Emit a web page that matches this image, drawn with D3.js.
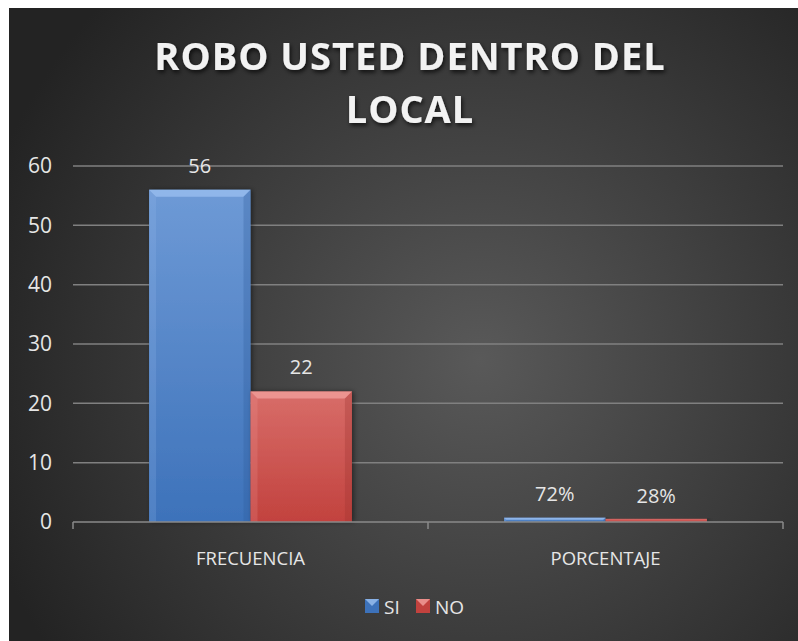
<!DOCTYPE html>
<html>
<head>
<meta charset="utf-8">
<script src="https://cdn.jsdelivr.net/npm/d3@7"></script>
<style>
  html, body { margin: 0; padding: 0; background: #ffffff; }
  svg { display: block; }
  text { font-family: "Open Sans", "DejaVu Sans", sans-serif; }
</style>
</head>
<body>
<svg id="chart" width="798" height="641"></svg>
<script>
// chart data
var categories = ["FRECUENCIA", "PORCENTAJE"];
var series = ["SI", "NO"];
var siValues = [56, 0.72];
var noValues = [22, 0.28];
var siLabels = ["56", "72%"];
var noLabels = ["22", "28%"];
var yTicks = [0, 10, 20, 30, 40, 50, 60];
var titleLines = ["ROBO USTED DENTRO DEL", "LOCAL"];

var colors = {
    SI: { top: "#6e9ad6", bottom: "#3d72ba", edge: "#9cc0f0", dark: "#2f5d9c" },
    NO: { top: "#d86d69", bottom: "#c2423e", edge: "#f3a19e", dark: "#9c3330" }
};

var svg = d3.select("#chart");
var defs = svg.append("defs");

// background radial gradient (dark edges, lighter middle)
var bg = defs.append("radialGradient")
    .attr("id", "bg")
    .attr("gradientUnits", "userSpaceOnUse")
    .attr("cx", 480).attr("cy", 360).attr("r", 520);
bg.append("stop").attr("offset", "0%").attr("stop-color", "#595959");
bg.append("stop").attr("offset", "100%").attr("stop-color", "#232323");

series.forEach(function (s) {
    var g = defs.append("linearGradient")
        .attr("id", "grad-" + s)
        .attr("x1", 0).attr("y1", 0).attr("x2", 0).attr("y2", 1);
    g.append("stop").attr("offset", "0%").attr("stop-color", colors[s].top);
    g.append("stop").attr("offset", "100%").attr("stop-color", colors[s].bottom);
});

var shadow = defs.append("filter").attr("id", "tshadow")
    .attr("x", "-10%").attr("y", "-30%").attr("width", "120%").attr("height", "160%");
shadow.append("feDropShadow")
    .attr("dx", 1.5).attr("dy", 2.5).attr("stdDeviation", 2)
    .attr("flood-color", "#000").attr("flood-opacity", 0.7);

var barShadow = defs.append("filter").attr("id", "bshadow")
    .attr("x", "-20%").attr("y", "-10%").attr("width", "140%").attr("height", "120%");
barShadow.append("feDropShadow")
    .attr("dx", 2).attr("dy", 0).attr("stdDeviation", 2.5)
    .attr("flood-color", "#000").attr("flood-opacity", 0.45);

// panel
svg.append("rect")
    .attr("x", 9).attr("y", 8)
    .attr("width", 798 - 9).attr("height", 641 - 8)
    .attr("fill", "url(#bg)");

// title
var title = svg.append("g").attr("filter", "url(#tshadow)");
title.selectAll("text")
    .data(titleLines)
    .enter().append("text")
    .attr("x", 410)
    .attr("y", function (d, i) { return 70 + i * 53; })
    .attr("text-anchor", "middle")
    .attr("fill", "#f2f2f2")
    .style("font-size", "38px")
    .style("font-weight", "bold")
    .style("letter-spacing", "1px")
    .text(function (d) { return d; });

// scales
var plot = { left: 73, right: 783, top: 166, bottom: 522 };

var x0 = d3.scaleBand()
    .domain(categories)
    .range([plot.left, plot.right])
    .padding(0);

var x1 = d3.scaleBand()
    .domain(series)
    .range([0, x0.bandwidth()])
    .paddingInner(0)
    .paddingOuter(0.75);

var y = d3.scaleLinear()
    .domain([0, 60])
    .range([plot.bottom, plot.top]);

// gridlines
svg.append("g")
    .selectAll("line")
    .data(yTicks.filter(function (d) { return d > 0; }))
    .enter().append("line")
    .attr("x1", plot.left).attr("x2", plot.right)
    .attr("y1", function (d) { return y(d); })
    .attr("y2", function (d) { return y(d); })
    .attr("stroke", "#808080")
    .attr("stroke-width", 1.5);

// y axis labels
var yAxis = d3.axisLeft(y).tickValues(yTicks).tickSize(0).tickPadding(21);
var yg = svg.append("g")
    .attr("transform", "translate(" + plot.left + ",0)")
    .call(yAxis);
yg.select(".domain").remove();
yg.selectAll("text")
    .attr("fill", "#e6e6e6")
    .style("font-size", "21px")
    .style("font-family", "\"Open Sans\", sans-serif");

// bars
var rows = [];
categories.forEach(function (c, i) {
    rows.push({ cat: c, s: "SI", v: siValues[i], label: siLabels[i] });
    rows.push({ cat: c, s: "NO", v: noValues[i], label: noLabels[i] });
});

var bars = svg.append("g").selectAll("g.bar")
    .data(rows)
    .enter().append("g")
    .attr("class", "bar");

bars.each(function (d) {
    var g = d3.select(this);
    var bx = x0(d.cat) + x1(d.s);
    var bw = x1.bandwidth();
    var by = y(d.v);
    var bh = y(0) - by;
    var c = colors[d.s];
    var bev = Math.min(7, bh / 2);

    g.append("rect")
        .attr("x", bx).attr("y", by)
        .attr("width", bw).attr("height", bh)
        .attr("fill", "url(#grad-" + d.s + ")")
        .attr("filter", "url(#bshadow)");

    if (bh > 4) {
        // bevel: top light, sides shaded
        g.append("path")
            .attr("d", "M" + bx + "," + by + "L" + (bx + bw) + "," + by +
                "L" + (bx + bw - bev) + "," + (by + bev) + "L" + (bx + bev) + "," + (by + bev) + "Z")
            .attr("fill", c.edge).attr("opacity", 0.75);
        g.append("path")
            .attr("d", "M" + bx + "," + by + "L" + (bx + bev) + "," + (by + bev) +
                "L" + (bx + bev) + "," + (by + bh) + "L" + bx + "," + (by + bh) + "Z")
            .attr("fill", c.edge).attr("opacity", 0.2);
        g.append("path")
            .attr("d", "M" + (bx + bw) + "," + by + "L" + (bx + bw - bev) + "," + (by + bev) +
                "L" + (bx + bw - bev) + "," + (by + bh) + "L" + (bx + bw) + "," + (by + bh) + "Z")
            .attr("fill", c.dark).attr("opacity", 0.3);
    } else {
        g.select("rect").attr("y", by - 1.5).attr("height", bh + 1.5);
    }

    g.append("text")
        .attr("x", bx + bw / 2)
        .attr("y", by - 17)
        .attr("text-anchor", "middle")
        .attr("fill", "#e6e6e6")
        .style("font-size", "20px")
        .text(d.label);
});

// x axis line and ticks
var xg = svg.append("g");
xg.append("line")
    .attr("x1", plot.left).attr("x2", plot.right)
    .attr("y1", plot.bottom).attr("y2", plot.bottom)
    .attr("stroke", "#8a8a8a").attr("stroke-width", 1.5);
xg.selectAll("line.tick")
    .data([plot.left, x0(categories[1]), plot.right])
    .enter().append("line")
    .attr("class", "tick")
    .attr("x1", function (d) { return d; }).attr("x2", function (d) { return d; })
    .attr("y1", plot.bottom).attr("y2", plot.bottom + 7)
    .attr("stroke", "#8a8a8a").attr("stroke-width", 1.5);
xg.selectAll("text")
    .data(categories)
    .enter().append("text")
    .attr("x", function (d) { return x0(d) + x0.bandwidth() / 2; })
    .attr("y", 565)
    .attr("text-anchor", "middle")
    .attr("fill", "#e6e6e6")
    .style("font-size", "18.5px")
    .text(function (d) { return d; });

// legend
var legend = svg.append("g").attr("transform", "translate(365,599)");
var items = legend.selectAll("g")
    .data(series)
    .enter().append("g")
    .attr("transform", function (d, i) { return "translate(" + (i * 51) + ",0)"; });
items.append("rect")
    .attr("width", 14).attr("height", 14)
    .attr("fill", function (d) { return colors[d].bottom; });
items.append("path")
    .attr("d", "M0,0L14,0L7,7Z")
    .attr("fill", function (d) { return colors[d].edge; })
    .attr("opacity", 0.8);
items.append("text")
    .attr("x", 19).attr("y", 14.5)
    .attr("fill", "#e6e6e6")
    .style("font-size", "19px")
    .text(function (d) { return d; });
</script>
</body>
</html>
